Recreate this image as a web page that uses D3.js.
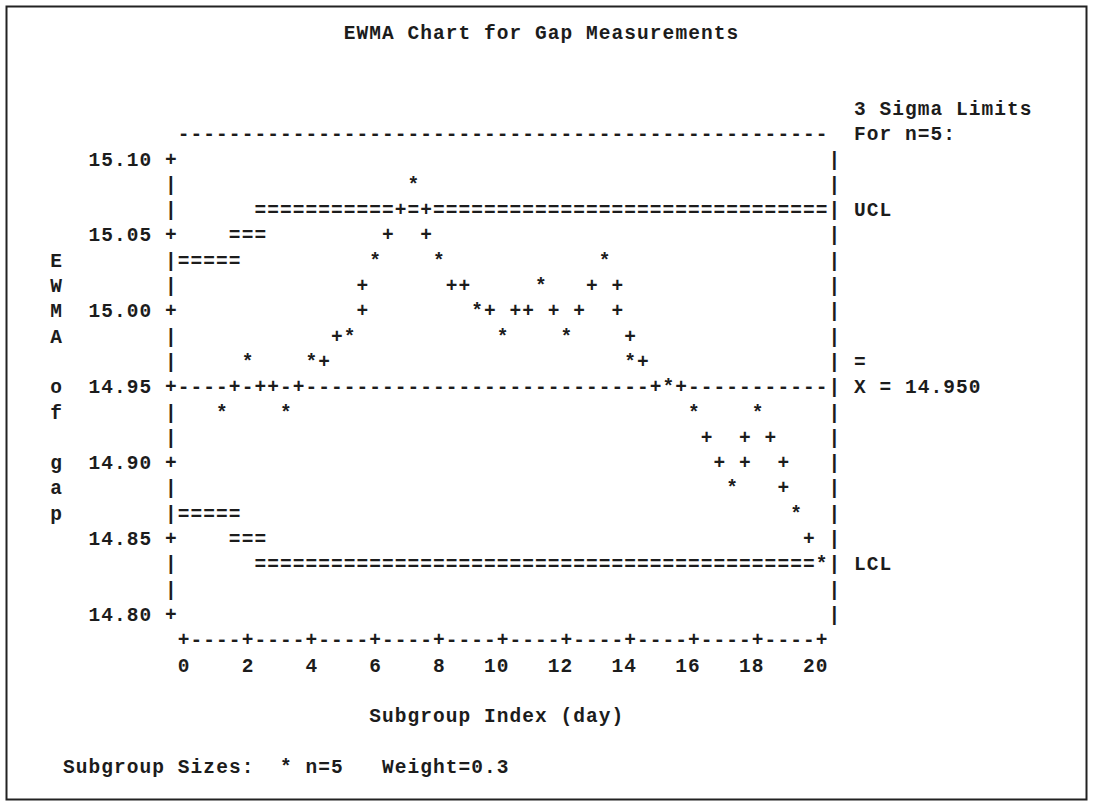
<!DOCTYPE html>
<html><head><meta charset="utf-8">
<script src="https://cdn.jsdelivr.net/npm/d3@7"></script>
<style>
body{margin:0;background:#fff}
text{font-family:"Liberation Mono","DejaVu Sans Mono",monospace;font-weight:bold;fill:#1c1c1c}
</style>
</head><body>
<svg id="chart" width="1093" height="802"></svg>
<script>
// ---- data ----
const days = [1,2,3,4,5,6,7,8,9,10,11,12,13,14,15,16,17,18,19,20];
const ewma = [14.933,14.967,14.933,14.967,14.983,15.033,15.083,15.033,15.000,14.983,
              15.017,14.983,15.033,14.967,14.950,14.933,14.883,14.933,14.867,14.833];
const ucl  = [15.033,15.052,15.060,15.063,15.065,15.066,15.066,15.067,15.067,15.067,
              15.067,15.067,15.067,15.067,15.067,15.067,15.067,15.067,15.067,15.067];
const lcl  = [14.867,14.848,14.840,14.837,14.835,14.834,14.834,14.833,14.833,14.833,
              14.833,14.833,14.833,14.833,14.833,14.833,14.833,14.833,14.833,14.833];
const centerValue = 14.95;
const yTicks = [15.10,15.05,15.00,14.95,14.90,14.85,14.80];
const xTicks = [0,2,4,6,8,10,12,14,16,18,20];
const titleText = "EWMA Chart for Gap Measurements";
const yLabelText = "EWMA of gap";
const xLabelText = "Subgroup Index (day)";
const limitHeader = ["3 Sigma Limits","For n=5:"];
const footerText = "Subgroup Sizes:  * n=5   Weight=0.3";

// ---- character grid geometry ----
const CW = 12.756, RH = 25.3, X0 = 183.7, B0 = 165.5, FS = 19.5;
const LS = CW - FS*0.6;
const cx = c => X0 + c*CW;
const by = r => B0 + r*RH;

const svg = d3.select("#chart");
svg.append("rect").attr("x",6.5).attr("y",6.5).attr("width",1080).attr("height",793)
  .attr("fill","none").attr("stroke","#222").attr("stroke-width",2);

// scales: data -> grid columns / rows
const xCol = d3.scaleLinear().domain([0,20]).range([0,50]);
const yRow = d3.scaleLinear().domain([15.10,14.80]).range([0,18]);
const rc = v => Math.floor(v + 0.5 + 1e-9);

const grid = new Map();
const put = (c,r,ch) => grid.set(c+","+r,{c,r,ch});
const c0 = rc(xCol(0)), c1 = rc(xCol(20));
const rTop = rc(yRow(15.10)), rBot = rc(yRow(14.80));

// frame of plot
for (let c=c0;c<=c1;c++) put(c,rTop-1,"-");
for (let r=rTop;r<=rBot;r++){ put(c0-1,r,"|"); put(c1+1,r,"|"); }
yTicks.forEach(t => put(c0-1, rc(yRow(t)), "+"));
for (let c=c0;c<=c1;c++) put(c,rBot+1,"-");
xTicks.forEach(t => put(rc(xCol(t)), rBot+1, "+"));
// center line
const rCenter = rc(yRow(centerValue));
for (let c=c0;c<=c1;c++) put(c,rCenter,"-");
// control limits (step lines)
function limitLine(vals){
  vals.forEach((v,i)=>{
    const d = days[i];
    const a = i===0 ? 0 : d-0.5, b = i===vals.length-1 ? 20 : d+0.5;
    const r = rc(yRow(v));
    for (let c=rc(xCol(a)); c<=rc(xCol(b)); c++) put(c,r,"=");
  });
}
limitLine(ucl); limitLine(lcl);
// points on grid
const pts = days.map((d,i)=>({c:rc(xCol(d)), r:Math.round(yRow(ewma[i]))}));
// connecting characters
for (let i=0;i<pts.length-1;i++){
  const p=pts[i], q=pts[i+1], dc=q.c-p.c, dr=q.r-p.r;
  if (Math.abs(dc) >= Math.abs(dr)){
    for (let c=p.c+1;c<q.c;c++){
      const rv = p.r + (c-p.c)*dr/dc;
      put(c, Math.ceil(rv-0.5-1e-9), "+");
    }
  } else {
    const s = Math.sign(dr);
    for (let r=p.r+s; r!==q.r; r+=s){
      const cv = p.c + (r-p.r)*dc/dr;
      put(rc(cv), r, "+");
    }
  }
}
pts.forEach(p=>put(p.c,p.r,"*"));

svg.append("g").selectAll("text").data([...grid.values()]).join("text")
  .attr("x",d=>cx(d.c)).attr("y",d=>by(d.r)).attr("text-anchor","middle")
  .attr("font-size",FS).text(d=>d.ch);

// strings on the grid
function str(s,c,r){
  svg.append("text").attr("x",cx(c)-FS*0.3).attr("y",by(r)).attr("font-size",FS)
    .attr("letter-spacing",LS).attr("xml:space","preserve").style("white-space","pre").text(s);
}
const fmt2 = d3.format(".2f"), fmt3 = d3.format(".3f");
yTicks.forEach(t=>{ const s=fmt2(t); str(s, c0-2-s.length, rc(yRow(t))); });
xTicks.forEach(t=>{ const s=String(t); str(s, rc(xCol(t))-s.length+1, rBot+2); });
yLabelText.split("").forEach((ch,k)=>{ if(ch!==" ") str(ch, c0-10, 4+k); });
str(titleText, 13, rTop-5);
limitHeader.forEach((s,k)=>str(s, c1+3, rTop-2+k));
str("UCL", c1+3, rc(yRow(ucl[ucl.length-1])));
str("=", c1+3, rCenter-1);
str("X = "+fmt3(centerValue), c1+3, rCenter);
str("LCL", c1+3, rc(yRow(lcl[lcl.length-1])));
str(xLabelText, 15, rBot+4);
str(footerText, -9, rBot+6);
</script>
</body></html>
